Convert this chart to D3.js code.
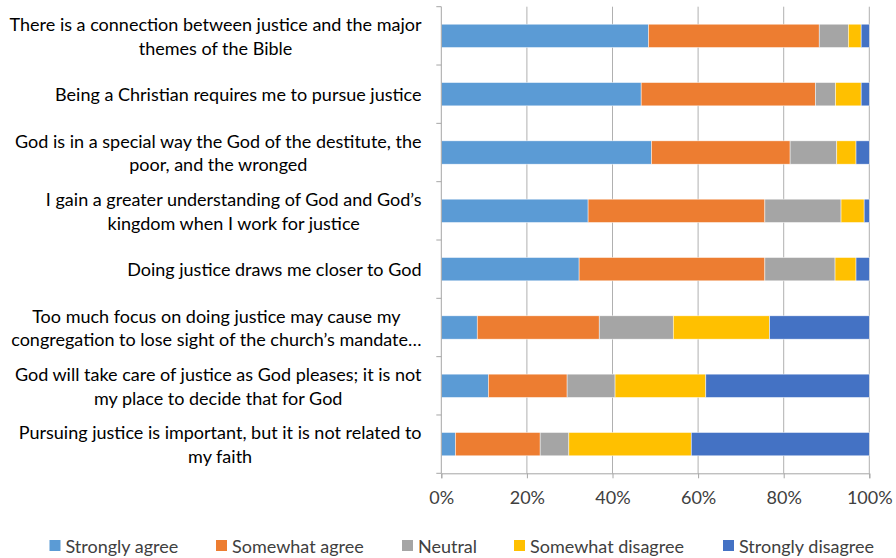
<!DOCTYPE html>
<html><head><meta charset="utf-8">
<script src="https://cdn.jsdelivr.net/npm/d3@7"></script>
<style>body{margin:0;background:#fff}svg{display:block}text{font-family:Lato,"Open Sans",sans-serif}</style>
</head><body>
<svg id="c" width="896" height="558"></svg>
<script>
const categories = [
  ["There is a connection between justice and the major","themes of the Bible"],
  ["Being a Christian requires me to pursue justice"],
  ["God is in a special way the God of the destitute, the","poor, and the wronged"],
  ["I gain a greater understanding of God and God\u2019s","kingdom when I work for justice"],
  ["Doing justice draws me closer to God"],
  ["Too much focus on doing justice may cause my","congregation to lose sight of the church\u2019s mandate\u2026"],
  ["God will take care of justice as God pleases; it is not","my place to decide that for God"],
  ["Pursuing justice is important, but it is not related to","my faith"]
];
const seriesNames = ["Strongly agree","Somewhat agree","Neutral","Somewhat disagree","Strongly disagree"];
const stronglyAgree    = [48.4, 46.7, 49.1, 34.3, 32.2,  8.4, 11.0,  3.3];
const somewhatAgree    = [39.9, 40.7, 32.4, 41.3, 43.4, 28.5, 18.4, 19.8];
const neutral          = [ 6.8,  4.7, 10.9, 17.8, 16.4, 17.3, 11.2,  6.7];
const somewhatDisagree = [ 3.0,  6.0,  4.5,  5.4,  4.9, 22.5, 21.2, 28.6];
const stronglyDisagree = [ 1.9,  1.9,  3.1,  1.2,  3.1, 23.3, 38.2, 41.6];
const tickValues = [0, 20, 40, 60, 80, 100];
const colors = ["#5B9BD5","#ED7D31","#A5A5A5","#FFC000","#4472C4"];

const FS = 18;
const svg = d3.select("#c");
const pLeft = 441.3, pRight = 869.3, pTop = 6.7, pBottom = 473.3;
const x = d3.scaleLinear().domain([0,100]).range([pLeft,pRight]);
const y = d3.scaleBand().domain(d3.range(categories.length)).range([pTop,pBottom]).paddingInner(0.6).paddingOuter(0.3);
const yb = d3.scaleBand().domain(d3.range(categories.length)).range([pTop,pBottom]);

const rows = categories.map((c,i)=>{
  const vals=[stronglyAgree[i],somewhatAgree[i],neutral[i],somewhatDisagree[i],stronglyDisagree[i]];
  const o={i}; seriesNames.forEach((s,k)=>o[s]=vals[k]); return o;
});
const stack = d3.stack().keys(seriesNames)(rows);

// gridlines
svg.append("g").selectAll("line").data(tickValues.slice(1)).join("line")
  .attr("x1",d=>x(d)).attr("x2",d=>x(d)).attr("y1",pTop).attr("y2",pBottom)
  .attr("stroke","#b0b0b0").attr("stroke-width",1);

// bars
svg.append("g").selectAll("g").data(stack).join("g")
  .attr("fill",(d,k)=>colors[k])
  .selectAll("rect").data(d=>d).join("rect")
  .attr("x",d=>x(d[0])).attr("width",d=>x(d[1])-x(d[0]))
  .attr("y",d=>y(d.data.i)).attr("height",y.bandwidth())
  .attr("stroke","#ffffff").attr("stroke-width",0.6).attr("stroke-opacity",0.8);

// x axis
const xAxis = d3.axisBottom(x).tickValues(tickValues).tickFormat(d=>d+"%").tickSize(5).tickPadding(13);
const gx = svg.append("g").attr("transform",`translate(0,${pBottom})`).call(xAxis);
gx.select(".domain").attr("stroke","#a6a6a6");
gx.selectAll(".tick line").attr("stroke","#a6a6a6");
gx.selectAll("text").attr("font-size",FS).attr("fill","#404040").attr("font-family","Lato,'Open Sans',sans-serif");

// y axis line and ticks
const gy = svg.append("g");
gy.append("line").attr("x1",pLeft).attr("x2",pLeft).attr("y1",pTop).attr("y2",pBottom).attr("stroke","#a6a6a6");
gy.selectAll("line.t").data(d3.range(categories.length+1)).join("line").attr("class","t")
  .attr("x1",pLeft-5).attr("x2",pLeft).attr("y1",d=>pTop+d*yb.step()).attr("y2",d=>pTop+d*yb.step())
  .attr("stroke","#a6a6a6");

// category labels
const labelRight = 421.5, lineH = 23.5;
categories.forEach((lines,i)=>{
  const cy = yb(i)+yb.bandwidth()/2;
  const g = svg.append("g");
  const ts = lines.map((t,j)=>g.append("text").text(t).attr("font-size",FS).attr("fill","#000")
     .attr("text-anchor","middle").attr("dominant-baseline","central")
     .attr("y",cy+(j-(lines.length-1)/2)*lineH));
  const w = d3.max(ts,t=>t.node().getComputedTextLength());
  ts.forEach(t=>t.attr("x",labelRight-w/2));
});

// legend
const legX = [49.5,216,402,514,723];
const lg = svg.append("g").selectAll("g").data(seriesNames).join("g")
  .attr("transform",(d,k)=>`translate(${legX[k]},540)`);
lg.append("rect").attr("width",11).attr("height",11).attr("fill",(d,k)=>colors[k]);
lg.append("text").attr("x",16).attr("y",6).attr("dominant-baseline","central")
  .attr("font-size",FS).attr("fill","#404040").text(d=>d);
</script>
</body></html>
